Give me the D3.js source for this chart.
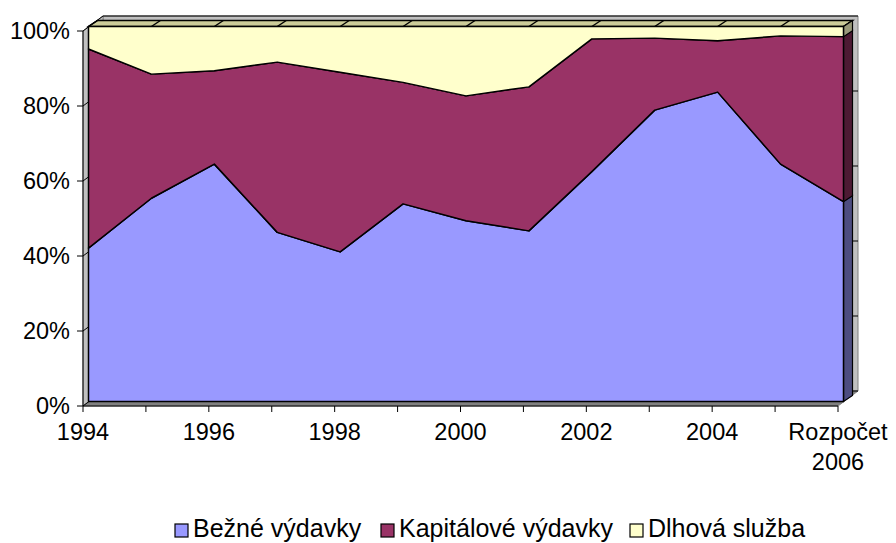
<!DOCTYPE html>
<html>
<head>
<meta charset="utf-8">
<script src="https://cdn.jsdelivr.net/npm/d3@7"></script>
<style>
  body { margin: 0; background: #fff; }
  svg { display: block; font-family: "Liberation Sans", Arial, sans-serif; }
</style>
</head>
<body>
<svg id="chart" width="896" height="543"></svg>
<script>
// data (percent shares)
const years = ["1994", "1995", "1996", "1997", "1998", "1999", "2000", "2001", "2002", "2003", "2004", "2005", "2006"];
const tickLabels = ["1994", "", "1996", "", "1998", "", "2000", "", "2002", "", "2004", "", "Rozpočet 2006"];
const seriesNames = ["Bežné výdavky", "Kapitálové výdavky", "Dlhová služba"];
const bezne = [40.9, 54.2, 63.3, 45.1, 39.9, 52.7, 48.2, 45.5, 61.3, 77.7, 82.5, 63.3, 53.3];
const kapitalove = [53.1, 33.1, 24.9, 45.4, 47.9, 32.4, 33.3, 38.4, 35.4, 19.2, 13.7, 34.2, 44.0];
const dlhova = [6.0, 12.7, 11.8, 9.5, 12.2, 14.9, 18.5, 16.1, 3.3, 3.1, 3.8, 2.5, 2.7];

const colors = ["#9999ff", "#993366", "#ffffcc"];
const sideColors = ["#4d4d80", "#4d1a33", "#99997a"];

const svg = d3.select("#chart");

// axis plane (front) and plotted plane (slightly behind)
const x = d3.scalePoint().domain(years).range([83, 838]);
const y = d3.scaleLinear().domain([0, 1]).range([406, 31]);
const face = { dx: 5.5, dy: -4.5 };   // series front face offset
const depth = { dx: 9, dy: -6 };      // series thickness
const wall = { dx: 20, dy: -15 };     // back wall offset

const table = years.map((yr, i) => ({ year: yr, s0: bezne[i], s1: kapitalove[i], s2: dlhova[i] }));
const stacked = d3.stack().keys(["s0", "s1", "s2"]).offset(d3.stackOffsetExpand)(table);

const fx = d => x(d) + face.dx;
const fy = v => y(v) + face.dy;

const pts = arr => arr.map(p => p.join(",")).join(" ");

// walls
const x0 = x(years[0]), x1 = x(years[years.length - 1]);
const yb = y(0), yt = y(1);
svg.append("polygon") // back wall
  .attr("points", pts([[x0 + wall.dx, yt + wall.dy], [x1 + wall.dx, yt + wall.dy], [x1 + wall.dx, yb + wall.dy], [x0 + wall.dx, yb + wall.dy]]))
  .attr("fill", "#c0c0c0").attr("stroke", "#808080");
svg.append("polygon") // side wall
  .attr("points", pts([[x0, yt], [x0 + wall.dx, yt + wall.dy], [x0 + wall.dx, yb + wall.dy], [x0, yb]]))
  .attr("fill", "#c0c0c0").attr("stroke", "#808080");
svg.append("polygon") // floor
  .attr("points", pts([[x0, yb], [x1, yb], [x1 + wall.dx, yb + wall.dy], [x0 + wall.dx, yb + wall.dy]]))
  .attr("fill", "#808080").attr("stroke", "#808080");

// gridlines
const gridVals = d3.range(0, 1.01, 0.2);
gridVals.forEach(v => {
  svg.append("line")
    .attr("x1", x0).attr("y1", y(v))
    .attr("x2", x0 + wall.dx).attr("y2", y(v) + wall.dy)
    .attr("stroke", "#000");
  svg.append("line")
    .attr("x1", x0 + wall.dx).attr("y1", y(v) + wall.dy)
    .attr("x2", x1 + wall.dx).attr("y2", y(v) + wall.dy)
    .attr("stroke", "#000");
});

// top surface of the stack
const topY = fy(1);
svg.append("polygon")
  .attr("points", pts([[fx(years[0]), topY], [fx(years[12]), topY], [fx(years[12]) + depth.dx, topY + depth.dy], [fx(years[0]) + depth.dx, topY + depth.dy]]))
  .attr("fill", "#cccc99").attr("stroke", "#000").attr("stroke-width", 1.5);
years.forEach(yr => {
  svg.append("line")
    .attr("x1", fx(yr)).attr("y1", topY)
    .attr("x2", fx(yr) + depth.dx).attr("y2", topY + depth.dy)
    .attr("stroke", "#000").attr("stroke-width", 1.5);
});

// right end faces
const last = years.length - 1;
stacked.forEach((layer, k) => {
  const p = layer[last];
  const xr = fx(years[last]);
  svg.append("polygon")
    .attr("points", pts([[xr, fy(p[0])], [xr, fy(p[1])], [xr + depth.dx, fy(p[1]) + depth.dy], [xr + depth.dx, fy(p[0]) + depth.dy]]))
    .attr("fill", sideColors[k]).attr("stroke", "#000").attr("stroke-width", 1.2);
});

// front faces
const area = d3.area()
  .x(d => fx(d.data.year))
  .y0(d => fy(d[0]))
  .y1(d => fy(d[1]));

svg.selectAll("path.layer")
  .data(stacked)
  .enter()
  .append("path")
  .attr("class", "layer")
  .attr("d", area)
  .attr("fill", (d, i) => colors[i])
  .attr("stroke", "#000")
  .attr("stroke-width", 1.5)
  .attr("stroke-linejoin", "round");

// axes
svg.append("line").attr("x1", x0).attr("y1", yt).attr("x2", x0).attr("y2", yb).attr("stroke", "#000");
svg.append("line").attr("x1", x0).attr("y1", yb).attr("x2", x1).attr("y2", yb).attr("stroke", "#000");

gridVals.forEach(v => {
  svg.append("line").attr("x1", x0 - 6).attr("x2", x0).attr("y1", y(v)).attr("y2", y(v)).attr("stroke", "#000");
  svg.append("text")
    .attr("x", 70).attr("y", y(v)).attr("dy", "0.33em")
    .attr("text-anchor", "end")
    .attr("font-size", "23.5px")
    .text(d3.format(".0%")(v));
});

years.forEach((yr, i) => {
  svg.append("line").attr("x1", x(yr)).attr("x2", x(yr)).attr("y1", yb).attr("y2", yb + 6).attr("stroke", "#000");
  const lines = tickLabels[i].split(" ").filter(s => s);
  const t = svg.append("text")
    .attr("text-anchor", "middle")
    .attr("font-size", "23.5px");
  lines.forEach((ln, j) => {
    t.append("tspan").attr("x", x(yr)).attr("y", 440 + j * 30).text(ln);
  });
});

// legend
const legendX = [175, 381, 630];
seriesNames.forEach((name, i) => {
  const g = svg.append("g").attr("transform", `translate(${legendX[i]},0)`);
  g.append("rect").attr("x", 0).attr("y", 524).attr("width", 13).attr("height", 13)
    .attr("fill", colors[i]).attr("stroke", "#000").attr("stroke-width", 1.2);
  g.append("text").attr("x", 18).attr("y", 537).attr("font-size", "25px").text(name);
});
</script>
</body>
</html>
